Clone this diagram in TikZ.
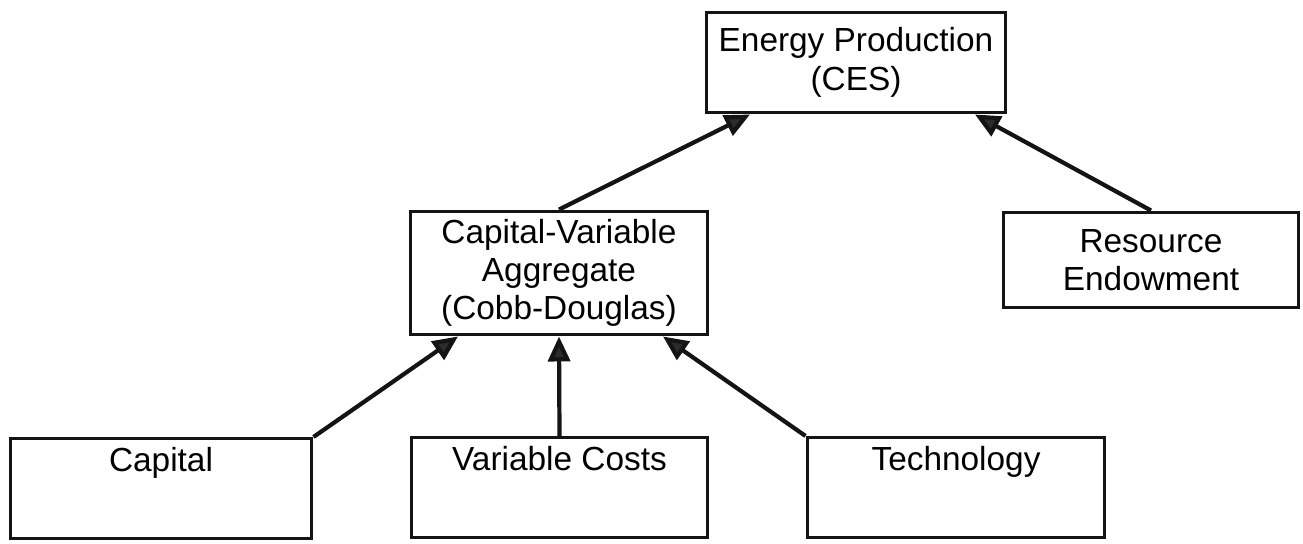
\documentclass[tikz,border=0pt]{standalone}
\usepackage{fontspec}
\setmainfont{Liberation Sans}
\usepackage{tikz}
\usetikzlibrary{arrows.meta, positioning, calc}
\definecolor{myink}{RGB}{20,20,20}
\tikzset{
  block/.style={rectangle, draw=myink, line width=1.7pt,
    align=center, inner sep=0pt, minimum width=6cm,
    font=\fontsize{19}{21.8}\selectfont},
  inblock/.style={block, text height=0.66cm, text depth=1.34cm},
  arrow/.style={-{Triangle[length=0.5cm, width=0.44cm, fill=myink!90]},
    line width=2.4pt, color=myink}
}

\begin{document}
\begin{tikzpicture}[x=0.02cm, y=-0.02cm]
  \useasboundingbox (0,0) rectangle (1303,544);

  % Upper levels
  \node[block, minimum height=2.02cm] (energy) at (856,62.5) {Energy Production\\(CES)};
  \node[block, minimum height=2.48cm, minimum width=5.96cm] (aggr) at (559,273)
    {Capital-Variable\\Aggregate\\(Cobb-Douglas)};
  \node[block, minimum height=1.92cm, minimum width=5.92cm] (resource) at (1151,260)
    {Resource\\Endowment};

  % Inputs
  \node[inblock, anchor=north, minimum width=6.04cm] (capital) at (161,437) {Capital};
  \node[inblock, anchor=north, minimum width=5.94cm] (varcost) at (559.5,436) {Variable Costs};
  \node[inblock, anchor=north, minimum width=5.96cm] (tech) at (956,436) {Technology};

  % Connectors
  \draw[arrow] (capital.north east) -- ([xshift=-2.02cm]aggr.south);
  \draw[arrow] (varcost.north) -- (aggr.south);
  \draw[arrow] (tech.north west) -- ([xshift=2.08cm]aggr.south);
  \draw[arrow] (aggr.north) -- ([xshift=-2.12cm]energy.south);
  \draw[arrow] (resource.north) -- ([xshift=2.38cm]energy.south);
\end{tikzpicture}
\end{document}
